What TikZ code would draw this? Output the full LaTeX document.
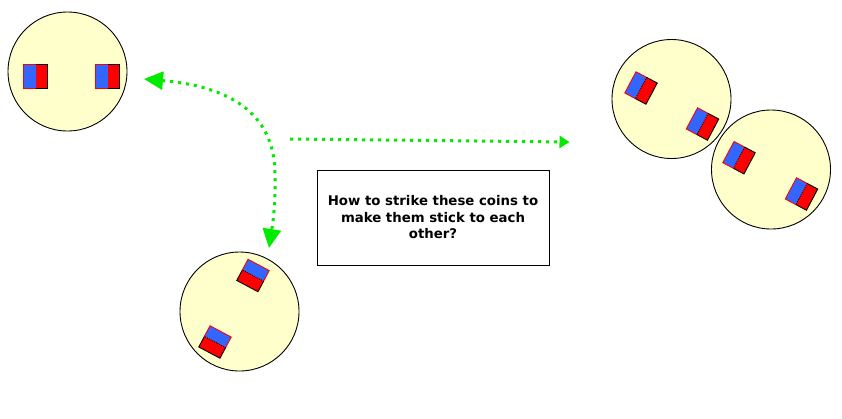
\documentclass[tikz,border=0pt]{standalone}
\usepackage{fontspec}
\newfontfamily\boxfont{DejaVu Sans}
\usetikzlibrary{arrows.meta}
\definecolor{cyellow}{RGB}{255,255,204}
\definecolor{mblue}{RGB}{51,102,255}
\definecolor{mred}{RGB}{255,0,0}
\definecolor{agreen}{RGB}{0,235,0}
\newcommand{\drawmagnet}[3]{%
  \begin{scope}[shift={(#1,#2)},rotate=#3]
    \fill[mblue] (-12,-12) rectangle (0,12);
    \fill[mred] (0,-12) rectangle (12,12);
    \draw[mred,line width=0.9pt] (0,-12) -- (-12,-12) -- (-12,12) -- (0,12);
    \draw[black,line width=0.9pt] (0,12) -- (12,12) -- (12,-12) -- (0,-12);
  \end{scope}}
\newcommand{\drawmagnetrot}[3]{%
  \drawmagnet{#1}{#2}{#3}%
  \begin{scope}[shift={(#1,#2)},rotate=#3]
    \draw[black,line width=0.8pt,dash pattern=on 1pt off 1pt] (0,-12) -- (0,12);
  \end{scope}}
\tikzset{
  coin/.style={circle,draw=black,line width=0.9pt,fill=cyellow,minimum size=119pt,inner sep=0pt},
  garrow/.style={draw=agreen,line width=3pt,dash pattern=on 3pt off 5pt},
  bigtip/.style={{Triangle[length=19pt,width=18pt,fill=agreen]}-{Triangle[length=19pt,width=18pt,fill=agreen]}},
  smalltip/.style={-{Triangle[length=10pt,width=12pt,fill=agreen]}},
  question/.style={draw=black,line width=0.9pt,fill=white,minimum width=232pt,minimum height=95pt,align=center,
    font=\boxfont\bfseries\fontsize{13.3}{16.5}\selectfont,inner sep=0pt}
}
\begin{document}
\begin{tikzpicture}[x=1pt,y=-1pt]
\useasboundingbox (0,0) rectangle (842,418);
\fill[white] (0,0) rectangle (842,418);
% coins
\node[coin] (c1) at (67.5,71.5) {};
\node[coin] (c2) at (239.5,311.5) {};
\node[coin] (c3) at (671.5,99) {};
\node[coin] (c4) at (771,169.5) {};
% magnets
\drawmagnet{35.5}{76.3}{0}
\drawmagnet{107.5}{76.3}{0}
\drawmagnetrot{253}{275.5}{-118}
\drawmagnetrot{215}{342}{-118}
\drawmagnetrot{641}{88}{-28}
\drawmagnetrot{702.5}{124}{-28}
\drawmagnetrot{739}{157.7}{-28}
\drawmagnetrot{801.5}{194}{-28}
% question box
\node[question] (q) at (433,217.5) {How to strike these coins to\\make them stick to each\\other?};
% arrows
\coordinate (a1) at (144,79);
\coordinate (am) at (275,175);
\coordinate (a2) at (269,248);
\coordinate (s1) at (290,139);
\coordinate (s2) at (569.5,142);
\draw[garrow,bigtip] (a1) .. controls (225,86) and (275,110) .. (am) .. controls (276,205) and (272,228) .. (a2);
\draw[garrow,smalltip] (s1) -- (s2);
\end{tikzpicture}
\end{document}
